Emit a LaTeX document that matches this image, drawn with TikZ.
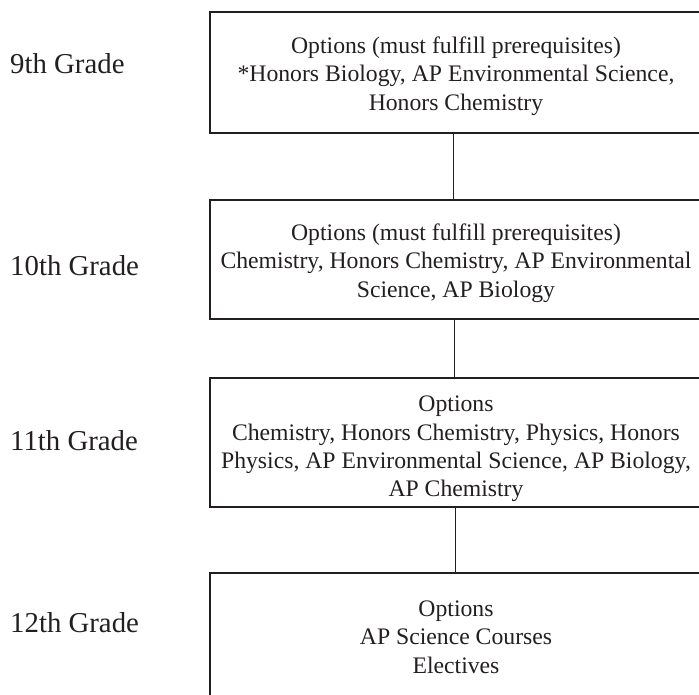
\documentclass[tikz,border=0pt]{standalone}
\usepackage{fontspec}
\setmainfont{Liberation Serif}
\definecolor{ink}{HTML}{231F20}
\begin{document}
\begin{tikzpicture}[x=1pt,y=-1pt,
  box/.style={draw=ink, line width=1.4pt, minimum width=492pt, inner sep=0pt},
  boxtext/.style={align=center, inner sep=0pt, text=ink,
    font=\fontsize{23.7}{28.4}\selectfont},
  grade/.style={anchor=base west, text=ink, inner sep=0pt,
    font=\fontsize{28.8}{32}\selectfont},
  link/.style={draw=ink, line width=0.9pt}]
\useasboundingbox (0,0) rectangle (699,694);
\node[box, minimum height=121pt] (b1) at (456,72.5) {};
\node[box, minimum height=119pt] (b2) at (456,259.5) {};
\node[box, minimum height=129pt] (b3) at (456,442.5) {};
\node[box, minimum height=128pt] (b4) at (456,637) {};
\node[boxtext] (t1) at (456,76)
  {Options (must fulfill prerequisites)\\*Honors Biology, AP Environmental Science,\\Honors Chemistry};
\node[boxtext] (t2) at (456,263)
  {Options (must fulfill prerequisites)\\Chemistry, Honors Chemistry, AP Environmental\\Science, AP Biology};
\node[boxtext] (t3) at (456,449)
  {Options\\Chemistry, Honors Chemistry, Physics, Honors\\Physics, AP Environmental Science, AP Biology,\\AP Chemistry};
\node[boxtext] (t4) at (456,637)
  {Options\\AP Science Courses\\Electives};
\node[grade] (g9) at (10,73) {9th Grade};
\node[grade] (g10) at (10,275) {10th Grade};
\node[grade] (g11) at (10,450) {11th Grade};
\node[grade] (g12) at (10,632) {12th Grade};
\draw[link] ([xshift=-3pt]b1.south) -- ([xshift=-3pt]b2.north);
\draw[link] ([xshift=-2pt]b2.south) -- ([xshift=-2pt]b3.north);
\draw[link] ([xshift=-1pt]b3.south) -- ([xshift=-1pt]b4.north);
\end{tikzpicture}
\end{document}
